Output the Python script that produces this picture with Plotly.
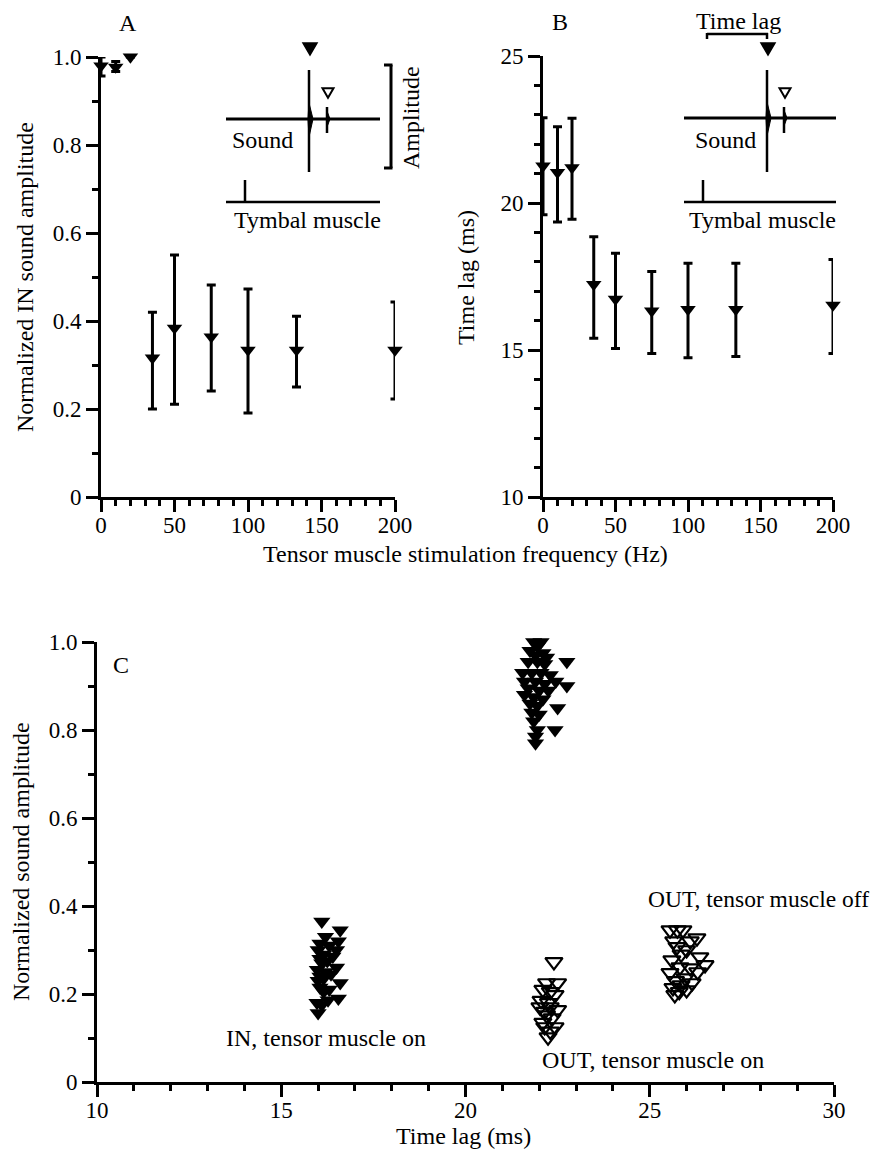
import plotly.graph_objects as go

REF_W, REF_H = 883, 1157
PAD = 8  # page body margin
W, H = REF_W - 2 * PAD, REF_H - 2 * PAD
FONT = "Liberation Serif, Times New Roman, DejaVu Serif, serif"

# ---------------- data ----------------
freq_hz = [0, 10, 20, 35, 50, 75, 100, 133, 200]

amp_mean = [0.98, 0.977, 1.0, 0.316, 0.384, 0.364, 0.334, 0.334, 0.334]
amp_upper = [1.0, 0.99, 1.0, 0.42, 0.55, 0.482, 0.473, 0.411, 0.443]
amp_lower = [0.957, 0.967, 1.0, 0.20, 0.211, 0.241, 0.191, 0.25, 0.223]

lag_mean = [21.26, 21.04, 21.2, 17.23, 16.73, 16.33, 16.38, 16.38, 16.53]
lag_upper = [22.9, 22.59, 22.88, 18.85, 18.29, 17.67, 17.95, 17.95, 18.08]
lag_lower = [19.6, 19.35, 19.45, 15.4, 15.05, 14.88, 14.74, 14.78, 14.88]

in_off_lag = [21.85, 22.05, 21.95, 21.75, 22.1, 21.9, 22.2, 21.7, 21.95, 22.15, 22.75,
              21.55, 21.8, 22.05, 22.3, 21.6, 21.9, 22.15, 22.45, 22.75, 21.7, 22.0,
              22.25, 21.6, 21.85, 22.1, 21.75, 21.95, 22.5, 21.8, 22.0, 21.85, 22.43,
              21.95, 21.9, 21.9]
in_off_amp = [1.0, 1.0, 0.99, 0.98, 0.975, 0.97, 0.965, 0.955, 0.955, 0.95, 0.955,
              0.93, 0.93, 0.93, 0.925, 0.91, 0.91, 0.905, 0.91, 0.90, 0.895, 0.89,
              0.89, 0.88, 0.875, 0.87, 0.86, 0.855, 0.85, 0.84, 0.835, 0.82, 0.80,
              0.80, 0.785, 0.77]

in_on_lag = [16.1, 16.6, 16.2, 16.55, 16.05, 16.3, 16.0, 16.5, 16.15, 16.4, 16.05,
             16.25, 16.1, 16.5, 15.98, 16.2, 16.35, 16.05, 16.15, 16.0, 16.6, 16.05,
             16.3, 16.15, 16.55, 16.27, 15.97, 16.1, 16.0]
in_on_amp = [0.365, 0.345, 0.33, 0.32, 0.315, 0.31, 0.30, 0.30, 0.29, 0.285, 0.28,
             0.275, 0.27, 0.26, 0.255, 0.25, 0.245, 0.24, 0.235, 0.23, 0.225, 0.215,
             0.21, 0.205, 0.19, 0.186, 0.18, 0.175, 0.157]

out_on_lag = [22.4, 22.2, 22.5, 22.1, 22.3, 22.43, 22.05, 22.25, 22.02, 22.3, 22.5,
              22.15, 22.2, 22.35, 22.1, 22.43, 22.15, 22.3, 22.24]
out_on_amp = [0.273, 0.225, 0.225, 0.21, 0.205, 0.198, 0.185, 0.18, 0.17, 0.17, 0.164,
              0.16, 0.152, 0.145, 0.135, 0.125, 0.125, 0.115, 0.102]

out_off_lag = [25.55, 25.75, 25.9, 26.28, 26.1, 25.65, 25.74, 26.0, 26.36, 25.85, 25.6,
               26.5, 25.82, 26.1, 25.55, 26.3, 25.96, 25.7, 26.15, 25.63, 26.0, 25.85,
               25.68, 25.8]
out_off_amp = [0.345, 0.345, 0.345, 0.327, 0.32, 0.32, 0.307, 0.30, 0.284, 0.29, 0.277,
               0.266, 0.261, 0.259, 0.248, 0.25, 0.236, 0.23, 0.225, 0.214, 0.209, 0.22,
               0.198, 0.205]

amp_ticks = [0, 0.2, 0.4, 0.6, 0.8, 1.0]
amp_ticktext = ["0", "0.2", "0.4", "0.6", "0.8", "1.0"]
freq_ticks = [0, 50, 100, 150, 200]
lag_ticks_b = [10, 15, 20, 25]
lag_ticks_c = [10, 15, 20, 25, 30]


def px(x):
    return (x - PAD) / W


def py(y):
    return 1 - (y - PAD) / H


fig = go.Figure()

err_style = dict(type="data", symmetric=False, color="black", thickness=3, width=4.5)

fig.add_trace(go.Scatter(
    x=freq_hz, y=amp_mean, mode="markers", xaxis="x", yaxis="y", cliponaxis=False,
    marker=dict(symbol="triangle-down", size=13.5, color="black"),
    error_y=dict(array=[u - m for u, m in zip(amp_upper, amp_mean)],
                 arrayminus=[m - l for m, l in zip(amp_mean, amp_lower)], **err_style),
    showlegend=False))

fig.add_trace(go.Scatter(
    x=freq_hz, y=lag_mean, mode="markers", xaxis="x2", yaxis="y2", cliponaxis=False,
    marker=dict(symbol="triangle-down", size=13.5, color="black"),
    error_y=dict(array=[u - m for u, m in zip(lag_upper, lag_mean)],
                 arrayminus=[m - l for m, l in zip(lag_mean, lag_lower)], **err_style),
    showlegend=False))

filled = dict(symbol="triangle-down", size=15, color="black")
opened = dict(symbol="triangle-down-open", size=15, color="black", line=dict(width=2.2, color="black"))
fig.add_trace(go.Scatter(x=in_off_lag, y=in_off_amp, mode="markers", xaxis="x3", yaxis="y3",
                         marker=filled, showlegend=False, cliponaxis=False))
fig.add_trace(go.Scatter(x=in_on_lag, y=in_on_amp, mode="markers", xaxis="x3", yaxis="y3",
                         marker=filled, showlegend=False, cliponaxis=False))
fig.add_trace(go.Scatter(x=out_on_lag, y=out_on_amp, mode="markers", xaxis="x3", yaxis="y3",
                         marker=opened, showlegend=False, cliponaxis=False))
fig.add_trace(go.Scatter(x=out_off_lag, y=out_off_amp, mode="markers", xaxis="x3", yaxis="y3",
                         marker=opened, showlegend=False, cliponaxis=False))

tickfont = dict(family=FONT, size=23, color="black")


def axis_style(**kw):
    d = dict(showline=True, linewidth=3, linecolor="black", ticks="outside", ticklen=12,
             tickwidth=3, tickcolor="black", showgrid=False, zeroline=False,
             tickfont=tickfont, fixedrange=True)
    d.update(kw)
    return d


def minor(dt):
    return dict(dtick=dt, ticks="outside", ticklen=6, tickwidth=2.5, tickcolor="black", showgrid=False)


fig.update_layout(
    width=W, height=H, autosize=False,
    margin=dict(l=0, r=0, t=0, b=0, autoexpand=False),
    paper_bgcolor="white", plot_bgcolor="white",
    xaxis=axis_style(domain=[px(101), px(395)], range=[0, 200], tickvals=freq_ticks,
                     minor=minor(10), anchor="y", ticklabelstandoff=-7),
    yaxis=axis_style(domain=[py(497), py(57)], range=[0, 1], tickvals=amp_ticks,
                     ticktext=amp_ticktext, minor=minor(0.1), anchor="x"),
    xaxis2=axis_style(domain=[px(543), px(833)], range=[0, 200], tickvals=freq_ticks,
                      minor=minor(10), anchor="y2", ticklabelstandoff=-7),
    yaxis2=axis_style(domain=[py(497), py(56)], range=[10, 25], tickvals=lag_ticks_b,
                      minor=minor(1), anchor="x2"),
    xaxis3=axis_style(domain=[px(97), px(834)], range=[10, 30], tickvals=lag_ticks_c,
                      minor=minor(1), anchor="y3", ticklabelstandoff=-7),
    yaxis3=axis_style(domain=[py(1082), py(642)], range=[0, 1], tickvals=amp_ticks,
                      ticktext=amp_ticktext, minor=minor(0.1), anchor="x3"),
)

TXT = dict(family=FONT, size=24, color="black")
annots = [
    dict(text="A", x=px(128), y=py(23)),
    dict(text="B", x=px(560), y=py(22)),
    dict(text="Normalized IN sound amplitude", x=px(25), y=py(277), textangle=-90),
    dict(text="Time lag (ms)", x=px(466), y=py(277), textangle=-90),
    dict(text="Tensor muscle stimulation frequency (Hz)", x=px(465), y=py(554)),
    dict(text="Normalized sound amplitude", x=0, y=py(862), textangle=-90, xanchor="left"),
    dict(text="Time lag (ms)", x=px(463), y=0, yanchor="bottom"),
    dict(text="C", x=px(121), y=py(665)),
    # inset A
    dict(text="Sound", x=px(262), y=py(140)),
    dict(text="Tymbal muscle", x=px(307), y=py(220)),
    dict(text="Amplitude", x=px(411), y=py(118), textangle=-90),
    # inset B
    dict(text="Time lag", x=px(738), y=1, yanchor="top"),
    dict(text="Sound", x=px(725), y=py(140)),
    dict(text="Tymbal muscle", x=px(762), y=py(220)),
]
for a in annots:
    base = dict(xref="paper", yref="paper", showarrow=False, font=TXT,
                xanchor="center", yanchor="middle", borderpad=0, borderwidth=0)
    base.update(a)
    fig.add_annotation(**base)

# panel C labels in data coordinates
c_labels = [
    dict(text="IN, tensor muscle off", x=23.05, y=1.01, xanchor="left"),
    dict(text="OUT, tensor muscle off", x=24.95, y=0.415, xanchor="left",
         font=dict(family=FONT, size=23.5, color="black")),
    dict(text="IN, tensor muscle on", x=16.21, y=0.10, xanchor="center"),
    dict(text="OUT, tensor muscle on", x=25.09, y=0.05, xanchor="center"),
]
for a in c_labels:
    base = dict(xref="x3", yref="y3", showarrow=False, font=TXT, yanchor="middle",
                borderpad=0, borderwidth=0)
    base.update(a)
    fig.add_annotation(**base)


# ---------------- inset drawings (schematic) ----------------
def seg(x0, y0, x1, y1, w=2.5):
    fig.add_shape(type="line", xref="paper", yref="paper", x0=px(x0), y0=py(y0),
                  x1=px(x1), y1=py(y1), line=dict(color="black", width=w))


def path(points, fill=True, w=1.5):
    d = "M " + " L ".join(f"{px(x):.5f},{py(y):.5f}" for x, y in points) + " Z"
    fig.add_shape(type="path", xref="paper", yref="paper", path=d,
                  fillcolor="black" if fill else "white",
                  line=dict(color="black", width=w))


def tri(cx, cy, size, fill=True):
    h = size * 0.85
    path([(cx - size / 2, cy - h / 2), (cx + size / 2, cy - h / 2), (cx, cy + h / 2)],
         fill=fill, w=1.5 if fill else 2)


def inset(x0, x1, spike, spike2, ytrace, ytym, tick_x):
    seg(x0, ytrace, x1, ytrace, 3)
    seg(spike, 70, spike, 172, 2.5)
    path([(spike, ytrace - 16), (spike + 4, ytrace), (spike, ytrace + 18), (spike - 1, ytrace)], True, 1)
    seg(spike2, 107, spike2, 133, 2.5)
    path([(spike2, ytrace - 8), (spike2 + 3, ytrace), (spike2, ytrace + 8)], True, 1)
    tri(spike + 1, 49, 14, True)
    tri(spike2 + 1, 93, 11, False)
    seg(x0, ytym, x1, ytym, 2.5)
    seg(tick_x, 180, tick_x, ytym, 2.5)


inset(226, 380, 309, 327, 119, 202, 245)
inset(684, 836, 767, 784, 118, 202, 703)

# amplitude bracket (A)
seg(391, 65, 391, 168, 3)
seg(384, 65, 392.5, 65, 3)
seg(384, 168, 392.5, 168, 3)
# time lag bracket (B)
seg(707, 34, 768, 34, 2.5)
seg(707, 33, 707, 39, 2.5)
seg(767, 33, 767, 39, 2.5)

fig.write_html("out.html")
